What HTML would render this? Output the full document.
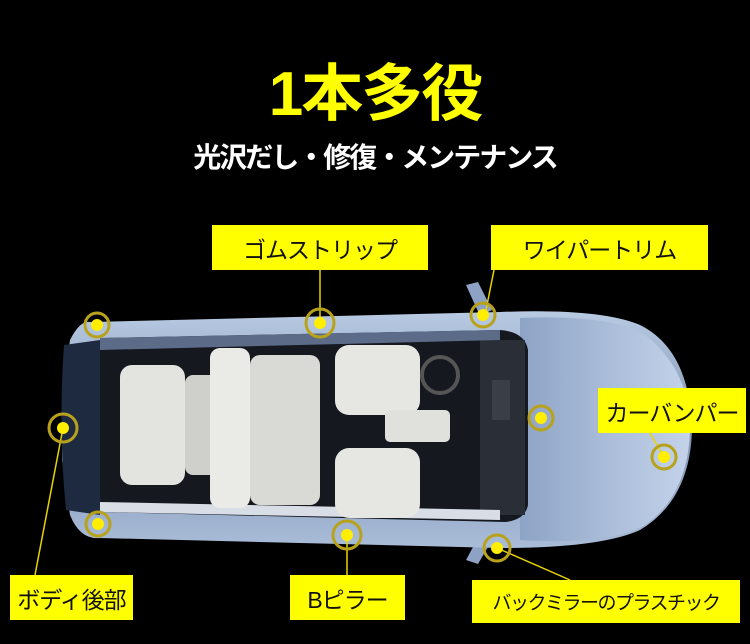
<!DOCTYPE html>
<html><head><meta charset="utf-8"><style>
body{margin:0;width:750px;height:644px;background:#000;overflow:hidden;position:relative;font-family:"Liberation Sans","Noto Sans CJK JP",sans-serif}
.t{position:absolute;left:0;width:750px;text-align:center;}
.lb{position:absolute;background:#ffff00;color:#111;font-size:23px;display:flex;align-items:center;justify-content:center;white-space:nowrap;letter-spacing:-1px}
svg{position:absolute;left:0;top:0}
</style></head><body>
<svg width="750" height="644">
<defs>
<linearGradient id="bd" x1="0" y1="0" x2="0" y2="1"><stop offset="0" stop-color="#b9cbe3"/><stop offset=".5" stop-color="#7f93b3"/><stop offset="1" stop-color="#a9bcd8"/></linearGradient>
<linearGradient id="hd" x1="0" y1="0" x2="1" y2="0"><stop offset="0" stop-color="#8ea4c6"/><stop offset="1" stop-color="#c4d3ea"/></linearGradient>
</defs>
<path d="M466 285 L478 282 L492 310 L480 316Z" fill="#8da2c4"/>
<path d="M466 560 L478 564 L492 540 L480 534Z" fill="#8da2c4"/>
<path d="M90 322 Q80 320 70 340 L62 400 L62 460 L70 515 Q80 540 100 538 L500 548 Q600 548 640 530 Q690 500 692 430 Q690 350 640 325 Q600 308 500 312 Z" fill="url(#bd)"/>
<path d="M520 318 Q610 314 645 335 Q690 370 690 430 Q688 495 645 525 Q610 545 520 540 Z" fill="url(#hd)"/>
<path d="M64 345 L100 340 L100 515 L66 510 Q58 430 64 345Z" fill="#1e2a40"/>
<path d="M100 338 L500 330 Q525 332 528 350 L528 505 Q525 520 505 522 L100 512Z" fill="#15181f"/>
<path d="M480 340 L525 340 L525 515 L480 515Z" fill="#2a2e36"/>
<path d="M100 338 L500 330 L500 340 L100 350Z" fill="#5c6c88"/>
<path d="M100 502 L500 510 L500 520 L100 512Z" fill="#d8dde6"/>
<rect x="120" y="365" width="65" height="120" rx="12" fill="#e3e3e0"/>
<rect x="185" y="375" width="35" height="100" rx="8" fill="#cfcfcc"/>
<rect x="210" y="348" width="40" height="160" rx="10" fill="#eaeae7"/>
<rect x="250" y="355" width="70" height="150" rx="10" fill="#d9d9d6"/>
<rect x="335" y="345" width="85" height="70" rx="14" fill="#e6e6e3"/>
<rect x="335" y="448" width="85" height="70" rx="14" fill="#e6e6e3"/>
<rect x="385" y="410" width="65" height="32" rx="5" fill="#e0e0dd"/>
<circle cx="440" cy="375" r="18" fill="none" stroke="#555" stroke-width="4"/>
<rect x="492" y="380" width="18" height="40" fill="#3a3e46"/>
</svg>
<div class="t" style="top:55px;font-size:62px;font-weight:bold;color:#ffff00;line-height:80px;letter-spacing:-2px">1本多役</div>
<div class="t" style="top:138px;font-size:28px;color:#fff;line-height:40px;letter-spacing:-2px;font-weight:bold">光沢だし・修復・メンテナンス</div>
<div class="lb" style="left:212px;top:225px;width:216px;height:45px">ゴムストリップ</div>
<div class="lb" style="left:491px;top:225px;width:217px;height:45px">ワイパートリム</div>
<div class="lb" style="left:598px;top:388px;width:148px;height:45px">カーバンパー</div>
<div class="lb" style="left:10px;top:575px;width:123px;height:45px">ボディ後部</div>
<div class="lb" style="left:290px;top:575px;width:115px;height:45px">Bピラー</div>
<div class="lb" style="left:472px;top:580px;width:268px;height:43px;font-size:19px;letter-spacing:-1.5px">バックミラーのプラスチック</div>
<svg width="750" height="644">
<g stroke="#e8d400" stroke-width="1.5" fill="none">
<line x1="320" y1="270" x2="320" y2="323"/>
<line x1="494" y1="270" x2="485" y2="315"/>
<line x1="650" y1="433" x2="664" y2="457"/>
<line x1="63" y1="428" x2="35" y2="575"/>
<line x1="347" y1="535" x2="347" y2="575"/>
<line x1="497" y1="548" x2="570" y2="580"/>
</g>
<g fill="#ffee00" stroke="#b8a21c" stroke-width="3">
<circle cx="97" cy="325" r="12" fill="none"/><circle cx="97" cy="325" r="6" stroke="none"/>
<circle cx="320" cy="323" r="14" fill="none"/><circle cx="320" cy="323" r="6" stroke="none"/>
<circle cx="483" cy="315" r="12" fill="none"/><circle cx="483" cy="315" r="6" stroke="none"/>
<circle cx="63" cy="428" r="14" fill="none"/><circle cx="63" cy="428" r="6" stroke="none"/>
<circle cx="541" cy="418" r="12" fill="none"/><circle cx="541" cy="418" r="6" stroke="none"/>
<circle cx="664" cy="457" r="12" fill="none"/><circle cx="664" cy="457" r="6" stroke="none"/>
<circle cx="98" cy="524" r="12" fill="none"/><circle cx="98" cy="524" r="6" stroke="none"/>
<circle cx="347" cy="535" r="14" fill="none"/><circle cx="347" cy="535" r="6" stroke="none"/>
<circle cx="497" cy="548" r="13" fill="none"/><circle cx="497" cy="548" r="6" stroke="none"/>
</g>
</svg>
</body></html>
